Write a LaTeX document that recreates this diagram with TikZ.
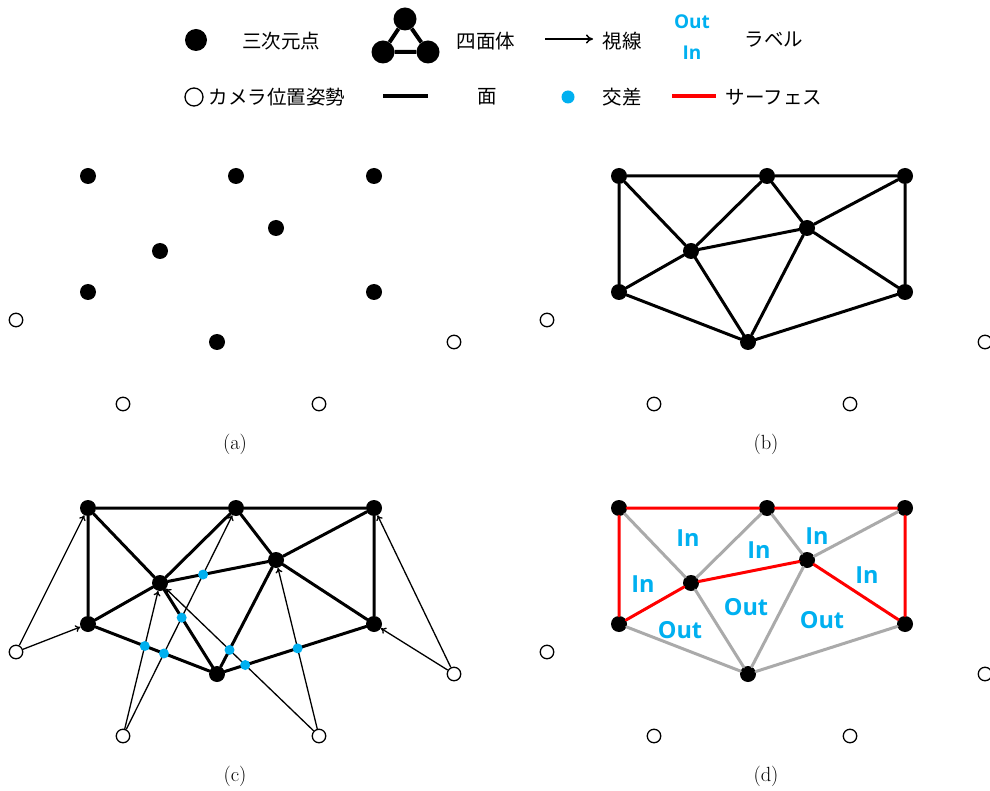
\documentclass[tikz,border=0pt]{standalone}
\usepackage{fontspec}
\newfontfamily\jp{Noto Sans CJK JP}
\newfontfamily\lblfont{Open Sans}
\usetikzlibrary{arrows.meta}
\definecolor{ixblue}{RGB}{0,176,240}
\definecolor{edgegray}{RGB}{170,170,170}
\newcommand\PlacePts[1]{%
 \node[vtx] (#1p1) at (88,176) {};
 \node[vtx] (#1p2) at (236,176) {};
 \node[vtx] (#1p3) at (374,176) {};
 \node[vtx] (#1p4) at (276,228) {};
 \node[vtx] (#1p5) at (160,251) {};
 \node[vtx] (#1p6) at (88,292) {};
 \node[vtx] (#1p7) at (374,292) {};
 \node[vtx] (#1p8) at (217,342) {};
 \node[cam] (#1c1) at (16,320) {};
 \node[cam] (#1c2) at (123,404) {};
 \node[cam] (#1c3) at (319,404) {};
 \node[cam] (#1c4) at (454,342) {};
}
\newcommand\MeshEdges[2]{%
 \draw[#1] (#2p1)--(#2p2) (#2p2)--(#2p3) (#2p1)--(#2p6) (#2p3)--(#2p7)
  (#2p1)--(#2p5) (#2p5)--(#2p2) (#2p2)--(#2p4) (#2p4)--(#2p3) (#2p5)--(#2p4)
  (#2p6)--(#2p5) (#2p5)--(#2p8) (#2p4)--(#2p8) (#2p4)--(#2p7) (#2p6)--(#2p8)
  (#2p8)--(#2p7);
}
\begin{document}
\begin{tikzpicture}[x=1pt,y=-1pt,
  vtx/.style={circle,fill=black,inner sep=0pt,minimum size=16pt},
  cam/.style={circle,draw=black,fill=white,line width=1.3pt,inner sep=0pt,minimum size=13.5pt},
  ixd/.style={circle,fill=ixblue,inner sep=0pt,minimum size=10pt},
  meshedge/.style={line width=3pt,line cap=round},
  rayline/.style={line width=1.3pt,-{To[length=5pt,width=7pt]}},
  surf/.style={red,line width=3pt,line cap=round},
  grayedge/.style={edgegray,line width=3pt,line cap=round},
  lbl/.style={text=ixblue,inner sep=0pt,font=\lblfont\bfseries\fontsize{23.5}{24}\selectfont},
  lgl/.style={text=ixblue,inner sep=0pt,font=\lblfont\bfseries\fontsize{19}{19}\selectfont},
  jptext/.style={inner sep=0pt,font=\jp\fontsize{19.5}{20}\selectfont},
  captext/.style={inner sep=0pt,font=\fontsize{20.5}{24}\selectfont}]
\clip (0,0) rectangle (990,791);
\fill[white] (0,0) rectangle (990,791);
% ---------------- legend ----------------
\node[vtx,minimum size=22pt] (lg1) at (196,40) {};
\node[jptext] (lg1t) at (281,41) {三次元点};
\node[vtx,minimum size=23pt] (t1) at (405,19) {};
\node[vtx,minimum size=23pt] (t2) at (383,52) {};
\node[vtx,minimum size=23pt] (t3) at (428,52) {};
\draw[line width=4pt] (t1)--(t2) (t2)--(t3) (t3)--(t1);
\node[jptext] (lg2t) at (486,41) {四面体};
\coordinate (ar1) at (545,39);
\coordinate (ar2) at (593,39);
\draw[line width=1.5pt,-{To[length=7pt,width=9pt]}] (ar1)--(ar2);
\node[jptext] (lg3t) at (622,41) {視線};
\node[lgl] (lgout) at (692,22) {Out};
\node[lgl] (lgin) at (692,53) {In};
\node[jptext] (lg4t) at (774,40) {ラベル};
\node[cam,minimum size=18pt] (lgc) at (194,97) {};
\node[jptext] (lg5t) at (277,97) {カメラ位置姿勢};
\coordinate (lf1) at (383,96);
\coordinate (lf2) at (428,96);
\draw[line width=4pt] (lf1)--(lf2);
\node[jptext] (lg6t) at (487,97) {面};
\node[ixd,minimum size=13pt] (lgx) at (568,97) {};
\node[jptext] (lg7t) at (622,97) {交差};
\coordinate (ls1) at (672,96);
\coordinate (ls2) at (716,96);
\draw[red,line width=4.5pt] (ls1)--(ls2);
\node[jptext] (lg8t) at (774,97) {サーフェス};
% ---------------- (a) ----------------
\PlacePts{a}
\node[captext] (capa) at (235,444) {(a)};
% ---------------- (b) ----------------
\begin{scope}[shift={(531,0)}]
\PlacePts{b}
\node[captext] (capb) at (235,444) {(b)};
\end{scope}
\MeshEdges{meshedge}{b}
% ---------------- (c) ----------------
\begin{scope}[shift={(0,332)}]
\PlacePts{c}
\node[captext] (capc) at (235,444) {(c)};
\end{scope}
\MeshEdges{meshedge}{c}
\draw[rayline] (cc1)--(cp1);
\draw[rayline] (cc1)--(cp6);
\draw[rayline] (cc2)--(cp5);
\draw[rayline] (cc2)--(cp2);
\draw[rayline] (cc3)--(cp5);
\draw[rayline] (cc3)--(cp4);
\draw[rayline] (cc4)--(cp3);
\draw[rayline] (cc4)--(cp7);
\node[ixd] (x1) at (intersection of cc2.center--cp2.center and cp5.center--cp4.center) {};
\node[ixd] (x2) at (intersection of cc2.center--cp2.center and cp5.center--cp8.center) {};
\node[ixd] (x3) at (intersection of cc2.center--cp5.center and cp6.center--cp8.center) {};
\node[ixd] (x4) at (intersection of cc2.center--cp2.center and cp6.center--cp8.center) {};
\node[ixd] (x5) at (intersection of cc3.center--cp5.center and cp8.center--cp4.center) {};
\node[ixd] (x6) at (intersection of cc3.center--cp5.center and cp8.center--cp7.center) {};
\node[ixd] (x7) at (intersection of cc3.center--cp4.center and cp8.center--cp7.center) {};
% ---------------- (d) ----------------
\begin{scope}[shift={(531,332)}]
\PlacePts{d}
\node[captext] (capd) at (235,444) {(d)};
\node[lbl] (in1) at (157,206) {In};
\node[lbl] (in2) at (228,218) {In};
\node[lbl] (in3) at (286,204) {In};
\node[lbl] (in4) at (112,252) {In};
\node[lbl] (in5) at (336,243) {In};
\node[lbl] (out1) at (215,275) {Out};
\node[lbl] (out2) at (291,288) {Out};
\node[lbl] (out3) at (149,298) {Out};
\end{scope}
\draw[grayedge] (dp1)--(dp5) (dp5)--(dp2) (dp2)--(dp4) (dp4)--(dp3)
  (dp5)--(dp8) (dp4)--(dp8) (dp6)--(dp8) (dp8)--(dp7);
\draw[surf] (dp1)--(dp2) (dp2)--(dp3) (dp1)--(dp6) (dp3)--(dp7)
  (dp6)--(dp5) (dp5)--(dp4) (dp4)--(dp7);
\end{tikzpicture}
\end{document}
